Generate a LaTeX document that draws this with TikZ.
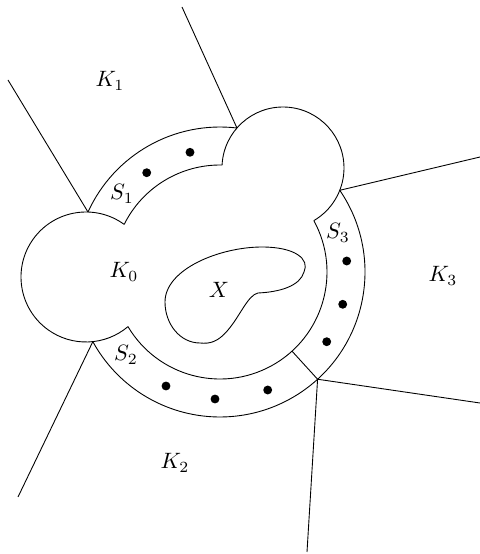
\documentclass[tikz,border=0pt]{standalone}
\usetikzlibrary{calc}
\begin{document}
\begin{tikzpicture}[x=0.45pt,y=0.45pt,
  dot/.style={circle,fill=black,inner sep=0pt,minimum size=4pt},
  lab/.style={inner sep=0pt}]
\useasboundingbox (0,0) rectangle (480,554);
\coordinate (C) at (220,282);
\coordinate (L) at (86,277);
\coordinate (T) at (283,386);
% intersection points
\coordinate (p1) at ([shift={(155.57:145)}]C);
\coordinate (p2) at ([shift={(208.71:145)}]C);
\coordinate (p3) at ([shift={(83.28:145)}]C);
\coordinate (p4) at ([shift={(34.30:145)}]C);
\coordinate (q1) at ([shift={(-47.7:107)}]C);
\coordinate (q2) at ([shift={(-47.7:145)}]C);
% free ends
\coordinate (e1) at (8,474);
\coordinate (e2) at (18,57);
\coordinate (e3) at (182,547);
\coordinate (e4) at (480,397);
\coordinate (e5) at (480,151);
\coordinate (e6) at (307,2);
% left circle
\draw ([shift={(54.05:65)}]L) arc[start angle=54.05,end angle=310.23,radius=65];
% top-right circle
\draw ([shift={(177.19:61)}]T) arc[start angle=177.19,end angle=-59.61,radius=61];
% S1 arcs
\draw (p1) arc[start angle=155.57,end angle=83.28,radius=145];
\draw ([shift={(153.59:107)}]C) arc[start angle=153.59,end angle=88.88,radius=107];
% S3, S2 arcs
\draw (p4) arc[start angle=34.30,end angle=-151.29,radius=145];
\draw ([shift={(28.70:107)}]C) arc[start angle=28.70,end angle=-149.31,radius=107];
% separator
\draw (q1) -- (q2);
% rays
\draw (p1) -- (e1);
\draw (p2) -- (e2);
\draw (p3) -- (e3);
\draw (p4) -- (e4);
\draw (q2) -- (e5);
\draw (q2) -- (e6);
% X blob
\draw (165,252) .. controls (165,285) and (220,307) .. (262,307)
  .. controls (295,307) and (310,295) .. (304,282)
  .. controls (300,268) and (280,262) .. (258,261)
  .. controls (248,259) and (240,238) .. (228,224)
  .. controls (218,212) and (210,210) .. (200,211)
  .. controls (180,211) and (165,230) .. (165,252) -- cycle;
% dots
\node[dot] (d1) at (146.7,381.3) {};
\node[dot] (d2) at (190,401.7) {};
\node[dot] (d3) at (346.7,293) {};
\node[dot] (d4) at (342.7,249.7) {};
\node[dot] (d5) at (326.7,212.3) {};
\node[dot] (d6) at (166,168) {};
\node[dot] (d7) at (215,155) {};
\node[dot] (d8) at (267.7,164) {};
% labels
\node[lab] (K1) at (110,473) {$K_1$};
\node[lab] (S1) at (122,360) {$S_1$};
\node[lab] (K0) at (124,282) {$K_0$};
\node[lab] (X) at (219,264) {$X$};
\node[lab] (S2) at (126,199) {$S_2$};
\node[lab] (S3) at (338,321) {$S_3$};
\node[lab] (K3) at (443,278) {$K_3$};
\node[lab] (K2) at (175,91) {$K_2$};
\end{tikzpicture}
\end{document}
